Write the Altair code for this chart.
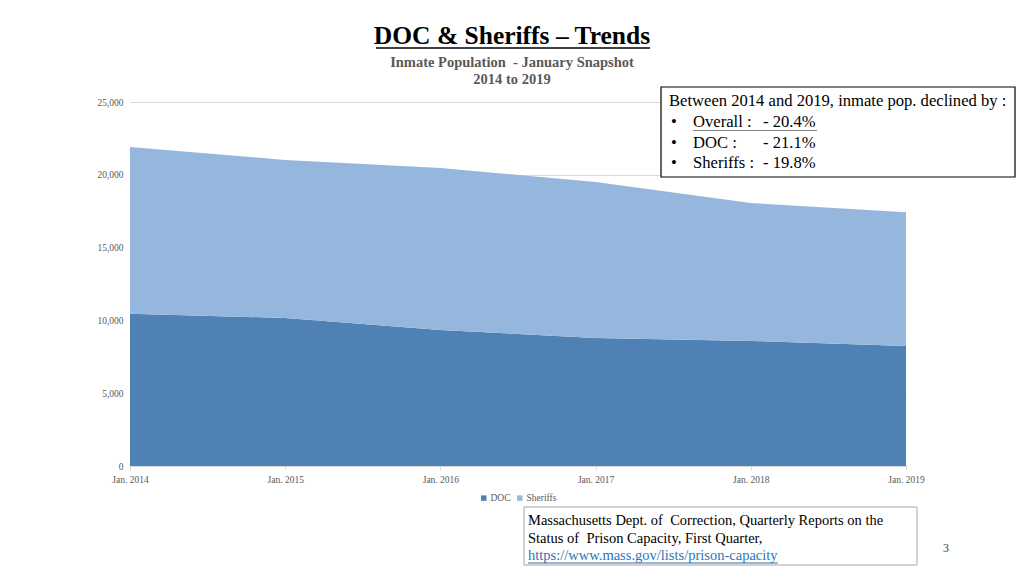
import altair as alt
import pandas as pd

# ---- data ----
years = ["Jan. 2014", "Jan. 2015", "Jan. 2016", "Jan. 2017", "Jan. 2018", "Jan. 2019"]
doc = [10450, 10170, 9340, 8790, 8590, 8245]
sheriffs = [11460, 10850, 11130, 10710, 9470, 9190]
series_names = ["DOC", "Sheriffs"]
series_colors = ["#4F81B5", "#95B7DD"]

title_text = "DOC & Sheriffs \u2013 Trends"
subtitle_lines = ["Inmate Population \u00a0- January Snapshot", "2014 to 2019"]
note_head = "Between 2014 and 2019, inmate pop. declined by :"
note_items = [("Overall :", "- 20.4%"), ("DOC :", "- 21.1%"), ("Sheriffs :", "- 19.8%")]
source_lines = ["Massachusetts Dept. of \u00a0Correction, Quarterly Reports on the",
                "Status of \u00a0Prison Capacity, First Quarter,"]
source_link = "https://www.mass.gov/lists/prison-capacity"
page_num = "3"

FONT = "Liberation Serif"
OX, OY = 130, 102  # plot origin on page

rows = []
for i, y in enumerate(years):
    rows.append({"year": y, "series": "DOC", "value": doc[i], "ord": 0})
    rows.append({"year": y, "series": "Sheriffs", "value": sheriffs[i], "ord": 1})
df = pd.DataFrame(rows)

area = alt.Chart(df).mark_area(opacity=1, interpolate="linear").encode(
    x=alt.X("year:N", sort=years, scale=alt.Scale(type="point", padding=0),
            axis=alt.Axis(title=None, labelAngle=0, labelFont=FONT, labelFontSize=9.5,
                          labelColor="#595959", domainColor="#d9d9d9", tickColor="#d9d9d9",
                          tickSize=4, labelPadding=4, grid=False)),
    y=alt.Y("value:Q", stack="zero", scale=alt.Scale(domain=[0, 25000]),
            axis=alt.Axis(title=None, values=[0, 5000, 10000, 15000, 20000, 25000], format=",d",
                          labelFont=FONT, labelFontSize=9.5, labelColor="#595959",
                          domain=False, ticks=False, labelPadding=7,
                          gridColor="#d9d9d9", gridWidth=1)),
    color=alt.Color("series:N", sort=series_names,
                    scale=alt.Scale(domain=series_names, range=series_colors),
                    legend=alt.Legend(title=None, orient="none", legendX=349, legendY=391,
                                      direction="horizontal", symbolType="square",
                                      symbolSize=30, labelFont=FONT, labelFontSize=9.5,
                                      labelColor="#595959", columnPadding=4,
                                      symbolStrokeWidth=0, labelOffset=2)),
    order=alt.Order("ord:Q"),
)

one = pd.DataFrame({"k": [0]})


def txt(s, px, py, size=13, bold=False, color="#000000", align="left"):
    return alt.Chart(pd.DataFrame({"t": [s]})).mark_text(
        font=FONT, fontSize=size, fontWeight="bold" if bold else "normal",
        color=color, align=align, baseline="middle").encode(
        text="t:N", x=alt.value(px - OX), y=alt.value(py - OY))


def hline(x1, x2, py, color="#000000", w=1):
    return alt.Chart(one).mark_rule(color=color, strokeWidth=w).encode(
        x=alt.value(x1 - OX), x2=alt.value(x2 - OX), y=alt.value(py - OY))


def box(x1, y1, x2, y2, stroke, w=1):
    return alt.Chart(one).mark_rect(fill="white", stroke=stroke, strokeWidth=w).encode(
        x=alt.value(x1 - OX), x2=alt.value(x2 - OX),
        y=alt.value(y1 - OY), y2=alt.value(y2 - OY))


layers = [area]
# title
layers.append(txt(title_text, 512, 36, size=25.5, bold=True, align="center"))
layers.append(hline(376, 650, 48, w=1.5))
layers.append(txt(subtitle_lines[0], 512, 63, size=14.5, bold=True, color="#595959", align="center"))
layers.append(txt(subtitle_lines[1], 512, 80, size=14.5, bold=True, color="#595959", align="center"))
# annotation box
layers.append(box(661, 87, 1015, 177, "#000000", 1.2))
layers.append(txt(note_head, 669, 101, size=16.6))
for i, (a, b) in enumerate(note_items):
    yy = 122 + i * 20.5
    layers.append(txt("\u2022", 671, yy, size=16.6))
    layers.append(txt(a, 693, yy, size=16.6))
    layers.append(txt(b, 763, yy, size=16.6))
layers.append(hline(693, 817, 130.5, color="#808080", w=1.2))
# source box
layers.append(box(524, 507, 917, 565, "#a6a6a6", 1))
layers.append(txt(source_lines[0], 528, 521, size=14.5))
layers.append(txt(source_lines[1], 528, 539, size=14.5))
layers.append(txt(source_link, 528, 556, size=14.5, color="#2E75B6"))
layers.append(hline(528, 778, 563, color="#2E75B6", w=1))
layers.append(txt(page_num, 943, 548, size=12, color="#404040"))

chart = alt.layer(*layers).properties(
    width=776, height=364,
    autosize=alt.AutoSizeParams(type="none"),
    padding={"left": 122, "top": 94, "right": 110, "bottom": 100},
).configure_view(stroke=None)

chart.save("out.html", embed_options={"renderer": "svg", "actions": False})
